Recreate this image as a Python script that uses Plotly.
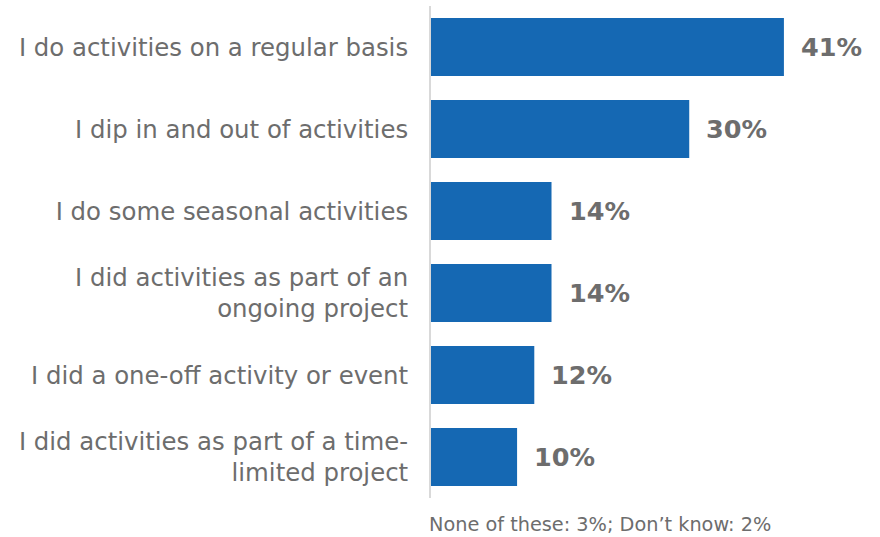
import plotly.graph_objects as go

categories = [
    "I do activities on a regular basis",
    "I dip in and out of activities",
    "I do some seasonal activities",
    "I did activities as part of an<br>ongoing project",
    "I did a one-off activity or event",
    "I did activities as part of a time-<br>limited project",
]
values = [41, 30, 14, 14, 12, 10]
labels = [f"{v}%" for v in values]
footnote = "None of these: 3%; Don\u2019t know: 2%"

BAR = "#1568b3"
GREY = "#6d6d6d"
FONT = "Verdana, DejaVu Sans, sans-serif"

fig = go.Figure(
    go.Bar(
        x=values,
        y=categories,
        orientation="h",
        marker=dict(color=BAR, line=dict(width=0)),
        hoverinfo="skip",
    )
)

# value labels sit a little to the right of each bar end
annotations = [
    dict(
        x=v,
        y=c,
        xref="x",
        yref="y",
        text=f"<b>{t}</b>",
        showarrow=False,
        xanchor="left",
        yanchor="middle",
        xshift=15,
        font=dict(family=FONT, size=25.5, color=GREY),
    )
    for c, v, t in zip(categories, values, labels)
]

# footnote under the plot area, aligned with the axis line and kept
# inside the bottom edge of the page
annotations.append(
    dict(
        text=footnote,
        x=0,
        y=-(537 - 498) / 492,
        xref="paper",
        yref="paper",
        xanchor="left",
        yanchor="bottom",
        xshift=-3,
        borderpad=0,
        showarrow=False,
        font=dict(family=FONT, size=19.3, color=GREY),
    )
)

fig.update_layout(
    width=880,
    height=537,
    margin=dict(l=431, r=10, t=6, b=39),
    paper_bgcolor="white",
    plot_bgcolor="white",
    bargap=0.29,
    showlegend=False,
    font=dict(family=FONT, color=GREY),
    xaxis=dict(
        range=[0, 51],
        visible=False,
        showgrid=False,
        zeroline=False,
    ),
    yaxis=dict(
        autorange="reversed",
        showgrid=False,
        zeroline=False,
        showline=True,
        linecolor="#d9d9d9",
        linewidth=2,
        ticks="",
        ticklabelstandoff=16,
        tickfont=dict(family=FONT, size=24.4, color=GREY),
    ),
    annotations=annotations,
)

fig.write_html("out.html")
